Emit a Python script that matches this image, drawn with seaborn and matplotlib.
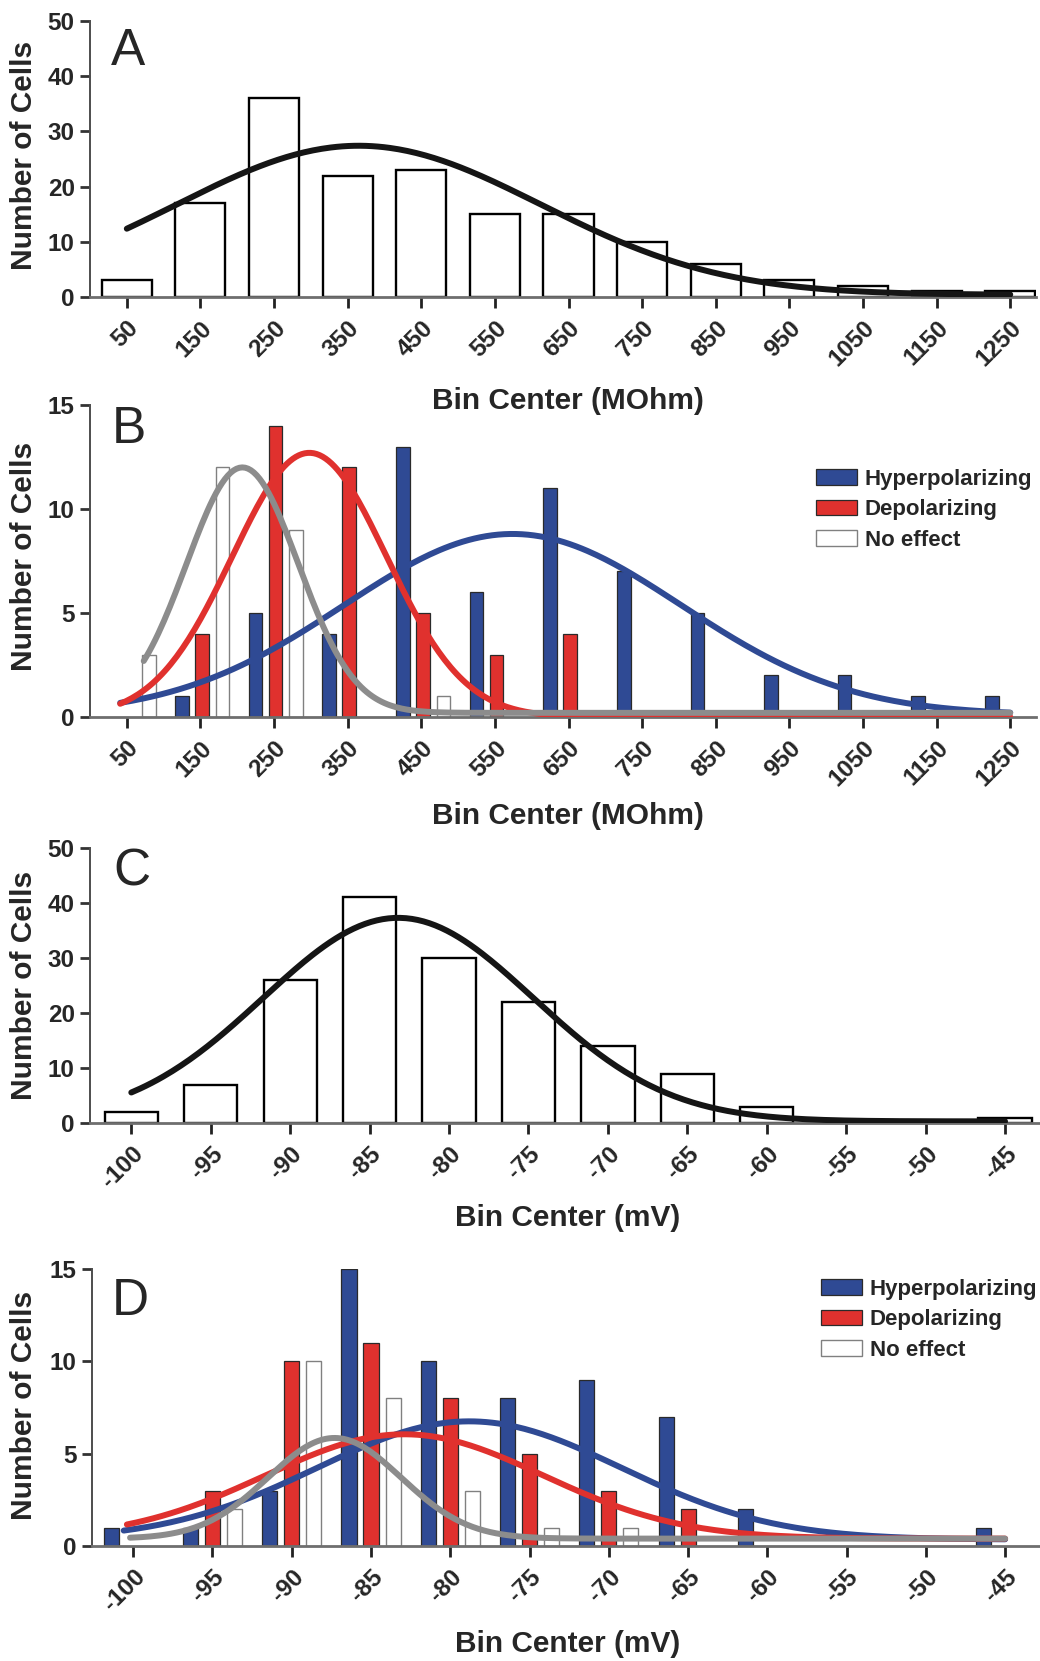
import numpy as np
import seaborn as sns
import matplotlib
matplotlib.use("Agg")
import matplotlib.pyplot as plt
from matplotlib.patches import Patch

# bin centers and counts
res_centers = [50, 150, 250, 350, 450, 550, 650, 750, 850, 950, 1050, 1150, 1250]
res_labels = ["50", "150", "250", "350", "450", "550", "650", "750", "850", "950", "1050", "1150", "1250"]
res_all = [3, 17, 36, 22, 23, 15, 15, 10, 6, 3, 2, 1, 1]
res_hyper = [0, 1, 5, 4, 13, 6, 11, 7, 5, 2, 2, 1, 1]
res_depol = [0, 4, 14, 12, 5, 3, 4, 0, 0, 0, 0, 0, 0]
res_none = [3, 12, 9, 0, 1, 0, 0, 0, 0, 0, 0, 0, 0]

vm_centers = [-100, -95, -90, -85, -80, -75, -70, -65, -60, -55, -50, -45]
vm_labels = ["-100", "-95", "-90", "-85", "-80", "-75", "-70", "-65", "-60", "-55", "-50", "-45"]
vm_all = [2, 7, 26, 41, 30, 22, 14, 9, 3, 0, 0, 1]
vm_hyper = [1, 1, 3, 15, 10, 8, 9, 7, 2, 0, 0, 1]
vm_depol = [0, 3, 10, 11, 8, 5, 3, 2, 0, 0, 0, 0]
vm_none = [0, 2, 10, 8, 3, 1, 1, 0, 0, 0, 0, 0]

# gaussian fits: (amplitude, mean, sd, baseline, x start, x end)
fit_res_all = (27.0, 365, 247, 0.4, 50, 1250)
fit_res_hyper = (8.7, 574, 229, 0.1, 41, 1250)
fit_res_depol = (12.7, 298, 105, 0.0, 41, 1250)
fit_res_none = (11.8, 207, 76, 0.2, 73, 1250)
fit_vm_all = (37.0, -83.2, 8.5, 0.3, -100, -45)
fit_vm_hyper = (6.4, -78.8, 9.6, 0.35, -100.6, -45)
fit_vm_depol = (5.65, -82.9, 8.75, 0.4, -100.4, -45)
fit_vm_none = (5.45, -87.3, 4.2, 0.4, -100.2, -45)

BLUE = "#2f4a94"
RED = "#e0312e"
GREY = "#8c8c8c"

sns.set_style("ticks")
plt.rcParams["font.family"] = ["Liberation Sans", "DejaVu Sans"]

W, H = 1040, 1661
fig = plt.figure(figsize=(W / 100, H / 100), dpi=100)


def px_axes(left, top, right, bottom):
    return fig.add_axes([left / W, 1 - bottom / H, (right - left) / W, (bottom - top) / H])


def fit_line(ax, p, color):
    amp, mu, sd, base, x0, x1 = p
    xs = np.linspace(x0, x1, 300)
    ys = amp * np.exp(-(xs - mu) ** 2 / (2 * sd ** 2)) + base
    sns.lineplot(x=xs, y=ys, ax=ax, color=color, lw=4.3, zorder=4, legend=False)


def bars(ax, centers, counts, width, offset, face, edge, lw):
    x = [c + offset for c, n in zip(centers, counts) if n > 0]
    h = [n for n in counts if n > 0]
    ax.bar(x, h, width=width, color=face, edgecolor=edge, linewidth=lw, zorder=2)


def style(ax, xlim, ylim, yticks, centers, labels):
    ax.set_xlim(*xlim)
    ax.set_ylim(*ylim)
    ax.set_yticks(yticks)
    ax.set_yticklabels([str(t) for t in yticks], fontsize=17.5, fontweight="bold")
    ax.set_xticks(centers)
    ax.set_xticklabels(labels, fontsize=17.5, fontweight="bold", rotation=45,
                       ha="right", va="top", rotation_mode="anchor")
    ax.tick_params(axis="x", length=8, width=2, pad=6, color="#222222")
    ax.tick_params(axis="y", length=7, width=2, pad=4, color="#333333")
    for s in ["top", "right"]:
        ax.spines[s].set_visible(False)
    ax.spines["left"].set_color("#4d4d4d")
    ax.spines["left"].set_linewidth(1.4)
    ax.spines["bottom"].set_color("#6e6e6e")
    ax.spines["bottom"].set_linewidth(2)
    ax.set_xlabel("")
    ax.set_ylabel("")


def fig_text(x, y, s, **kw):
    fig.text(x / W, 1 - y / H, s, **kw)


# A
axA = px_axes(90, 21, 1036, 297)
bars(axA, res_centers, res_all, 68, 0, "white", "black", 1.7)
fit_line(axA, fit_res_all, "#151515")
style(axA, (0, 1285), (0, 50), [0, 10, 20, 30, 40, 50], res_centers, res_labels)

# B
axB = px_axes(90, 405, 1036, 717)
bars(axB, res_centers, res_hyper, 18.5, -25, BLUE, "#2a2a2a", 0.9)
bars(axB, res_centers, res_depol, 18.5, 2, RED, "#2a2a2a", 0.9)
bars(axB, res_centers, res_none, 18.5, 30, "white", "#808080", 1.0)
fit_line(axB, fit_res_hyper, BLUE)
fit_line(axB, fit_res_depol, RED)
fit_line(axB, fit_res_none, GREY)
style(axB, (0, 1285), (0, 15), [0, 5, 10, 15], res_centers, res_labels)

# C
axC = px_axes(90, 848, 1040, 1123)
bars(axC, vm_centers, vm_all, 3.35, 0, "white", "black", 1.7)
fit_line(axC, fit_vm_all, "#151515")
style(axC, (-102.6, -42.8), (0, 50), [0, 10, 20, 30, 40, 50], vm_centers, vm_labels)

# D
axD = px_axes(92, 1269, 1040, 1546)
bars(axD, vm_centers, vm_hyper, 0.95, -1.39, BLUE, "#2a2a2a", 0.9)
bars(axD, vm_centers, vm_depol, 0.95, 0, RED, "#2a2a2a", 0.9)
bars(axD, vm_centers, vm_none, 0.95, 1.39, "white", "#808080", 1.0)
fit_line(axD, fit_vm_hyper, BLUE)
fit_line(axD, fit_vm_depol, RED)
fit_line(axD, fit_vm_none, GREY)
style(axD, (-102.6, -42.8), (0, 15), [0, 5, 10, 15], vm_centers, vm_labels)

# legends
handles = [Patch(facecolor=BLUE, edgecolor="#2a2a2a", lw=0.9),
           Patch(facecolor=RED, edgecolor="#2a2a2a", lw=0.9),
           Patch(facecolor="white", edgecolor="#808080", lw=1.0)]
names = ["Hyperpolarizing", "Depolarizing", "No effect"]
for ax, (lx, ly) in [(axB, (816, 469)), (axD, (821, 1279))]:
    ax.legend(handles, names, loc="upper left", bbox_to_anchor=(lx / W, 1 - ly / H),
              bbox_transform=fig.transFigure, frameon=False,
              prop={"size": 16, "weight": "bold"}, handlelength=1.85, handleheight=0.72,
              handletextpad=0.35, labelspacing=0.42, borderpad=0, borderaxespad=0)

# panel letters
for (x, y), s in zip([(111, 27), (112, 405), (113, 848), (112, 1277)], "ABCD"):
    fig_text(x, y, s, fontsize=37, ha="left", va="top")

# axis labels
for y in [155, 556, 985, 1405]:
    fig_text(24, y, "Number of Cells", fontsize=21.5, fontweight="bold",
             rotation=90, ha="center", va="center")
for y, s in [(401, "Bin Center (MOhm)"), (816, "Bin Center (MOhm)"),
             (1218, "Bin Center (mV)"), (1644, "Bin Center (mV)")]:
    fig_text(568, y, s, fontsize=21.5, fontweight="bold", ha="center", va="center")

fig.savefig("out.png", dpi=100)
